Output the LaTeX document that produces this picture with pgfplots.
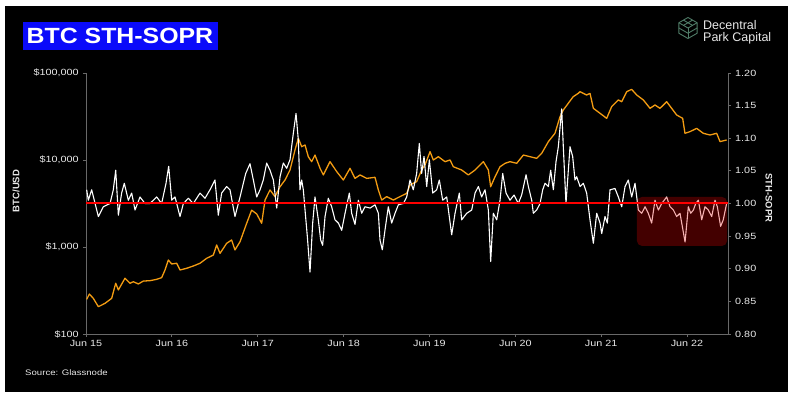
\documentclass[border=0pt]{standalone}
\usepackage{pgfplots}
\pgfplotsset{compat=1.18}
\usepackage{fontspec}
\setmainfont{Liberation Sans}
\definecolor{btcorange}{RGB}{243,156,18}
\definecolor{axgray}{RGB}{105,105,105}
\definecolor{lbl}{RGB}{232,232,232}
\definecolor{soprred}{RGB}{220,20,20}
\definecolor{boxred}{RGB}{225,0,0}
\definecolor{titleblue}{RGB}{10,10,250}
\definecolor{logogreen}{RGB}{80,125,104}
\begin{document}
\begin{tikzpicture}
\fill[white] (0pt,0pt) rectangle (788pt,396pt);
\fill[black] (5pt,4pt) rectangle (788pt,390pt);
% title
\fill[titleblue] (23pt,346pt) rectangle (218pt,374pt);
\node[anchor=west, text=white, font=\fontsize{22}{24}\selectfont\bfseries, xscale=1.13, inner sep=0pt] at (26.5pt,360.5pt) {BTC STH-SOPR};
% logo
\begin{scope}[shift={(688pt,368pt)}, logogreen, line width=0.9pt, line join=round]
\draw (0pt,10.5pt) -- (9.1pt,5.25pt) -- (9.1pt,-5.25pt) -- (0pt,-10.5pt) -- (-9.1pt,-5.25pt) -- (-9.1pt,5.25pt) -- cycle;
\draw (-9.1pt,5.25pt) -- (0pt,0pt) -- (9.1pt,5.25pt);
\draw (0pt,0pt) -- (0pt,-10.5pt);
\draw (-9.1pt,0pt) -- (0pt,-5.25pt) -- (9.1pt,0pt);
\draw (-4.55pt,7.875pt) -- (4.55pt,2.625pt);
\draw (4.55pt,7.875pt) -- (-4.55pt,2.625pt);
\end{scope}
\node[anchor=base west, text=lbl, font=\fontsize{12.5}{13}\selectfont, inner sep=0pt] at (703pt,366pt) {Decentral};
\node[anchor=base west, text=lbl, font=\fontsize{12.5}{13}\selectfont, inner sep=0pt] at (703pt,354pt) {Park Capital};
% source
\node[anchor=base west, text=lbl, font=\fontsize{8}{9}\selectfont, xscale=1.2, inner sep=0pt] at (25pt,20.5pt) {Source: Glassnode};
% axis titles
\node[rotate=90, text=lbl, font=\fontsize{9.5}{10}\selectfont\bfseries] at (16pt,205pt) {BTC/USD};
\node[rotate=-90, text=lbl, font=\fontsize{9.5}{10}\selectfont\bfseries] at (769pt,198pt) {STH-SOPR};

\begin{axis}[
  at={(86pt,62pt)}, anchor=south west, scale only axis,
  width=642pt, height=261pt,
  xmin=0, xmax=7.477,
  ymode=log, ymin=100, ymax=100000,
  axis y line*=left, axis x line*=bottom,
  axis line style={-, axgray, line width=0.8pt},
  every tick/.style={axgray, line width=0.8pt},
  tick align=outside, major tick length=3pt,
  yminorticks=false, xminorticks=false,
  xtick={0,1,2,3,4,5,6,7},
  xticklabels={Jun 15,Jun 16,Jun 17,Jun 18,Jun 19,Jun 20,Jun 21,Jun 22},
  ytick={100,1000,10000,100000},
  yticklabels={{\$100},{\$1,000},{\$10,000},{\$100,000}},
  tick label style={text=lbl, font=\fontsize{9}{10}\selectfont, xscale=1.2},
]
\addplot[btcorange, line width=1.3pt, line join=round] coordinates {
(0.008,250) (0.039,288) (0.085,257) (0.144,206) (0.221,225) (0.299,257)
(0.346,383) (0.377,321) (0.454,437) (0.513,383) (0.551,399) (0.610,376)
(0.668,406) (0.745,410) (0.823,425) (0.881,444) (0.920,544) (0.959,709)
(0.998,638) (1.056,650) (1.095,544) (1.172,569) (1.250,605) (1.328,650)
(1.405,741) (1.483,809) (1.522,1055) (1.561,845) (1.638,1102) (1.696,1203)
(1.735,925) (1.794,1151) (1.871,1871) (1.929,2650) (1.988,2400) (2.046,1871)
(2.085,3467) (2.143,4519) (2.201,3793) (2.260,4932) (2.318,5888) (2.376,7674)
(2.434,13032) (2.473,17750) (2.512,14230) (2.551,14870) (2.589,10910) (2.628,9570)
(2.667,11400) (2.726,8020) (2.764,6730) (2.842,9570) (2.920,7350) (2.997,5888)
(3.075,8020) (3.133,6150) (3.192,6730) (3.269,6150) (3.366,6325) (3.405,4519)
(3.444,3467) (3.502,3793) (3.579,3467) (3.657,3793) (3.735,4140) (3.774,5164)
(3.851,5640) (3.909,7674) (3.948,8770) (4.007,12470) (4.045,10000) (4.104,10910)
(4.181,9570) (4.240,10000) (4.278,8370) (4.375,7674) (4.453,6730) (4.531,7674)
(4.628,9570) (4.686,7674) (4.713,4932) (4.764,6425) (4.822,8370) (4.881,9160)
(4.938,9570) (5.016,9160) (5.094,11400) (5.171,10910) (5.249,10450) (5.307,11930)
(5.385,16260) (5.462,20280) (5.521,31480) (5.559,37600) (5.617,44870) (5.675,53500)
(5.734,58500) (5.753,60950) (5.831,55850) (5.870,58340) (5.909,39260) (5.987,34390)
(6.064,30120) (6.122,41020) (6.200,48980) (6.239,46800) (6.297,60950) (6.355,64860)
(6.414,55850) (6.491,48980) (6.569,39260) (6.627,42870) (6.685,39260) (6.763,46800)
(6.821,39260) (6.879,32890) (6.949,30120) (6.976,20280) (7.034,21170) (7.112,23110)
(7.189,20280) (7.267,19370) (7.345,20280) (7.384,16260) (7.461,16980)
};
\end{axis}

\begin{axis}[
  at={(86pt,62pt)}, anchor=south west, scale only axis,
  width=642pt, height=261pt,
  xmin=0, xmax=7.477,
  ymin=0.8, ymax=1.2,
  axis y line*=right, axis x line=none,
  axis line style={-, axgray, line width=0.8pt},
  every tick/.style={axgray, line width=0.8pt},
  tick align=outside, major tick length=3pt,
  ytick={0.8,0.85,0.9,0.95,1.0,1.05,1.1,1.15,1.2},
  yticklabels={0.80,0.85,0.90,0.95,1.00,1.05,1.10,1.15,1.20},
  tick label style={text=lbl, font=\fontsize{9}{10}\selectfont, xscale=1.2},
]
\addplot[white, line width=1.1pt, line join=round] coordinates {
(0.008,1.021) (0.027,1.005) (0.066,1.021) (0.144,0.980) (0.202,0.995) (0.280,1.000)
(0.318,1.021) (0.346,1.051) (0.377,0.982) (0.415,1.016) (0.446,1.031) (0.493,1.005)
(0.532,1.016) (0.571,0.990) (0.629,1.010) (0.687,1.000) (0.745,1.000) (0.823,1.010)
(0.881,1.000) (0.932,1.031) (0.963,1.057) (0.998,1.005) (1.037,1.010) (1.095,0.980)
(1.134,1.000) (1.192,1.008) (1.250,1.000) (1.328,1.016) (1.386,1.008) (1.444,1.021)
(1.502,1.036) (1.541,0.982) (1.580,1.016) (1.638,1.026) (1.677,1.021) (1.735,0.980)
(1.794,1.010) (1.860,1.046) (1.910,1.061) (1.949,1.036) (1.988,1.010) (2.027,1.021)
(2.065,1.036) (2.104,1.062) (2.143,1.051) (2.182,1.036) (2.221,0.993) (2.260,1.041)
(2.298,1.062) (2.337,1.054) (2.376,1.067) (2.415,1.108) (2.446,1.138) (2.473,1.097)
(2.492,1.021) (2.512,1.036) (2.531,1.021) (2.551,0.990) (2.578,0.949) (2.609,0.895)
(2.640,0.970) (2.667,1.010) (2.706,0.975) (2.733,0.944) (2.756,0.936) (2.784,0.980)
(2.822,1.008) (2.861,0.995) (2.900,0.975) (2.939,0.970) (2.978,0.959) (3.017,0.985)
(3.067,1.016) (3.094,0.985) (3.133,0.968) (3.172,1.005) (3.211,0.985) (3.249,0.995)
(3.308,0.993) (3.366,0.998) (3.405,0.985) (3.424,0.944) (3.451,0.929) (3.482,0.959)
(3.521,0.995) (3.560,0.970) (3.599,0.985) (3.638,0.998) (3.696,1.000) (3.735,1.010)
(3.774,1.036) (3.812,1.021) (3.851,1.046) (3.882,1.092) (3.909,1.046) (3.937,1.072)
(3.968,1.026) (3.999,1.067) (4.038,1.016) (4.084,1.021) (4.115,1.036) (4.154,1.005)
(4.201,1.010) (4.259,0.952) (4.298,0.985) (4.348,1.016) (4.375,0.975) (4.434,0.985)
(4.492,0.990) (4.531,1.016) (4.570,1.026) (4.608,1.010) (4.647,1.021) (4.686,0.990)
(4.713,0.911) (4.744,0.985) (4.783,0.975) (4.822,1.005) (4.853,1.046) (4.892,1.016)
(4.938,1.005) (4.985,1.013) (5.035,1.000) (5.074,1.013) (5.125,1.044) (5.152,1.026)
(5.191,1.005) (5.210,0.985) (5.249,0.990) (5.288,1.000) (5.319,1.021) (5.346,1.031)
(5.385,1.026) (5.412,1.051) (5.443,1.021) (5.474,1.064) (5.501,1.087) (5.540,1.145)
(5.559,1.087) (5.590,1.000) (5.637,1.087) (5.668,1.072) (5.695,1.036) (5.715,1.041)
(5.754,1.026) (5.792,1.031) (5.831,1.016) (5.870,0.975) (5.909,0.939) (5.948,0.985)
(5.987,0.970) (6.006,0.954) (6.045,0.980) (6.072,0.970) (6.103,1.021) (6.161,1.023)
(6.200,1.010) (6.239,0.995) (6.278,1.026) (6.316,1.036) (6.355,1.010) (6.394,1.031)
(6.433,0.990) (6.472,0.985) (6.511,0.995) (6.549,0.985) (6.588,0.970) (6.627,1.005)
(6.666,0.990) (6.705,1.000) (6.763,1.010) (6.802,0.995) (6.841,0.990) (6.879,0.980)
(6.918,0.985) (6.977,0.941) (7.015,0.995) (7.043,0.985) (7.074,0.990) (7.101,1.000)
(7.132,1.005) (7.171,0.975) (7.209,0.995) (7.248,0.990) (7.287,0.980) (7.326,1.005)
(7.353,0.995) (7.391,0.965) (7.422,0.975) (7.461,1.000)
};
\fill[boxred, opacity=0.3, rounded corners=5pt] (axis cs:6.417,0.935) rectangle (axis cs:7.466,1.01);
\addplot[draw=red, line width=2pt, mark=none] coordinates {(0,1) (7.477,1)};
\end{axis}
\end{tikzpicture}
\end{document}
